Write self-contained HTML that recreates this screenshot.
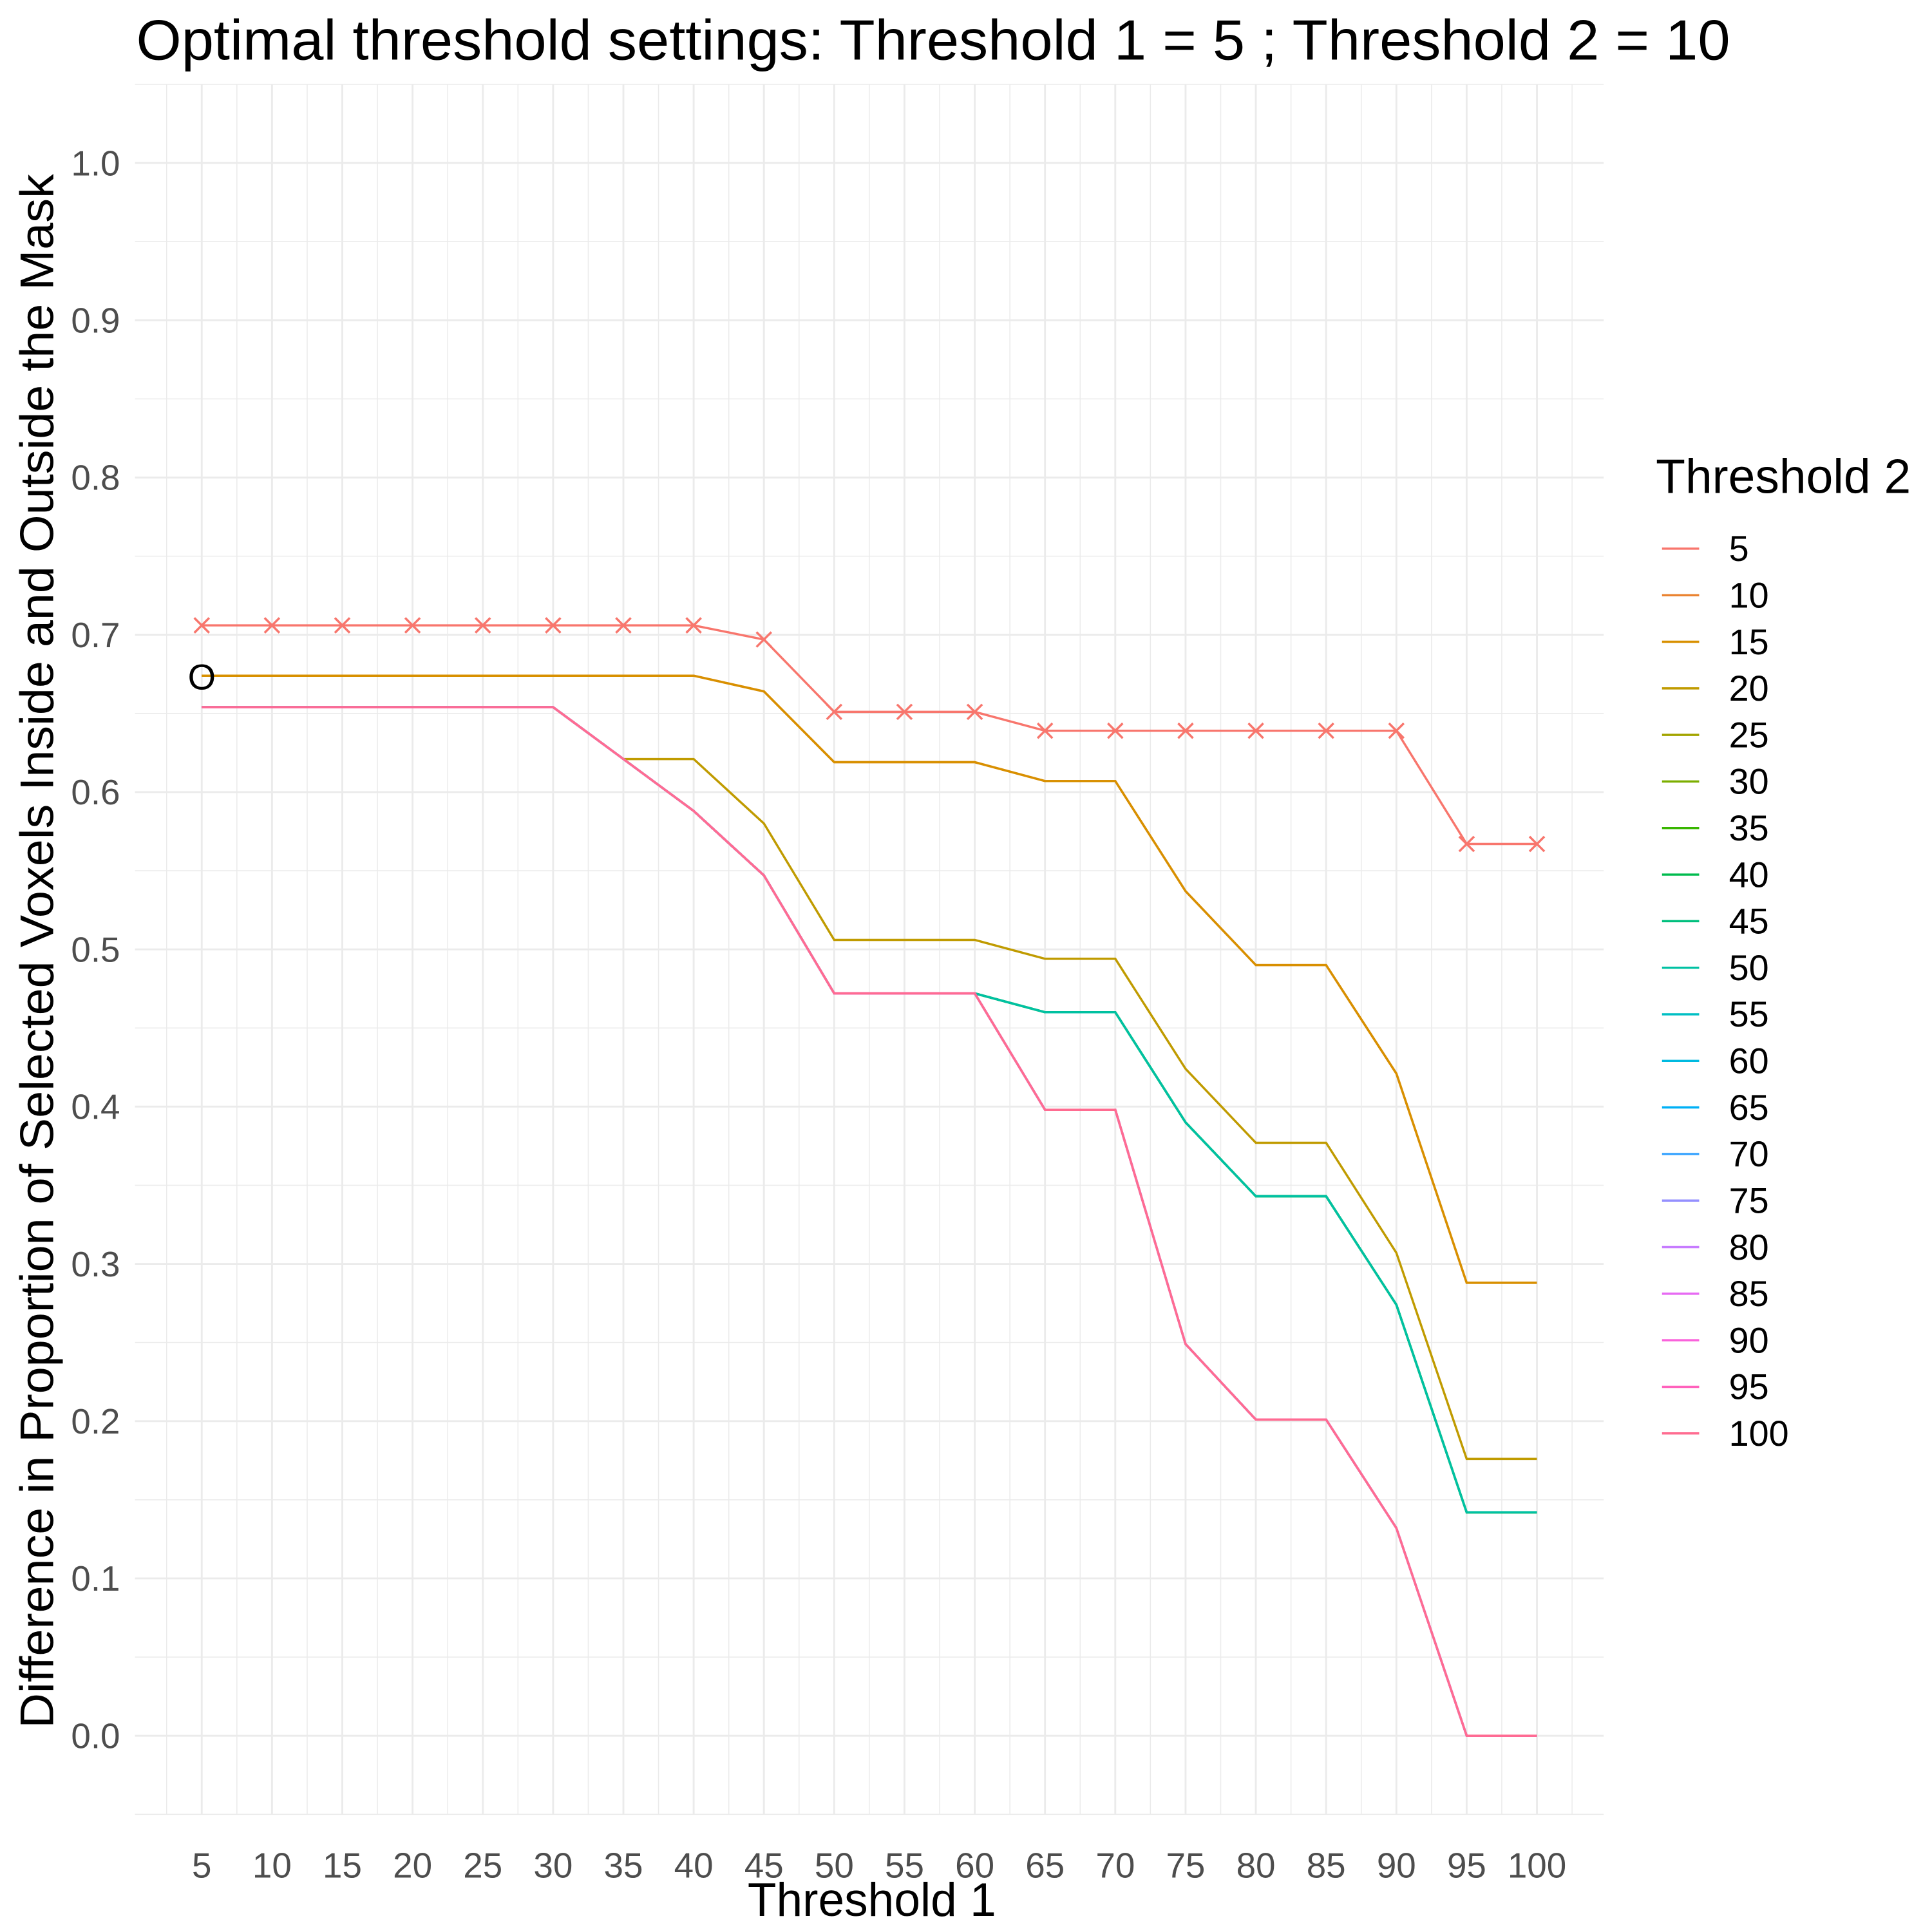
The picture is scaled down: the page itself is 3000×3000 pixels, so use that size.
<!DOCTYPE html>
<html><head><meta charset="utf-8"><style>
html,body{margin:0;padding:0;background:#fff}
svg{display:block}
text{font-family:"Liberation Sans",Arial,sans-serif}
</style></head><body>
<svg id="chart" width="3000" height="3000" viewBox="0 0 1560 1560" xmlns="http://www.w3.org/2000/svg">
<text x="110" y="48" font-size="46" textLength="1287" lengthAdjust="spacingAndGlyphs" fill="#000">Optimal threshold settings: Threshold 1 = 5 ; Threshold 2 = 10</text>
<g id="grid"></g>
<g id="series"></g>
<g id="axes"></g>
<text x="704" y="1547" font-size="38" text-anchor="middle" fill="#000">Threshold 1</text>
<text transform="translate(43,768) rotate(-90)" font-size="38" text-anchor="middle" textLength="1255" lengthAdjust="spacingAndGlyphs" fill="#000">Difference in Proportion of Selected Voxels Inside and Outside the Mask</text>
<text x="1337" y="398" font-size="39" fill="#000">Threshold 2</text>
<g id="legend"></g>
</svg>
<script>
const categories=[5,10,15,20,25,30,35,40,45,50,55,60,65,70,75,80,85,90,95,100];
const seriesLevels=[5,10,15,20,25,30,35,40,45,50,55,60,65,70,75,80,85,90,95,100];
const colors=["#F8766D","#EA8331","#D89000","#C09B00","#A3A500","#7CAE00","#39B600","#00BB4E","#00BF7D","#00C1A3","#00BFC4","#00BAE0","#00B0F6","#35A2FF","#9590FF","#C77CFF","#E76BF3","#FA62DB","#FF62BC","#FF6C91"];
const valsT5=[0.706,0.706,0.706,0.706,0.706,0.706,0.706,0.706,0.697,0.651,0.651,0.651,0.639,0.639,0.639,0.639,0.639,0.639,0.567,0.567];
const valsT10=[0.674,0.674,0.674,0.674,0.674,0.674,0.674,0.674,0.664,0.619,0.619,0.619,0.607,0.607,0.537,0.490,0.490,0.421,0.288,0.288];
const valsT20=[0.654,0.654,0.654,0.654,0.654,0.654,0.621,0.621,0.580,0.506,0.506,0.506,0.494,0.494,0.424,0.377,0.377,0.307,0.176,0.176];
const valsT25to50=[0.654,0.654,0.654,0.654,0.654,0.654,0.621,0.588,0.547,0.472,0.472,0.472,0.460,0.460,0.390,0.343,0.343,0.274,0.142,0.142];
const valsT55to100=[0.654,0.654,0.654,0.654,0.654,0.654,0.621,0.588,0.547,0.472,0.472,0.472,0.398,0.398,0.249,0.201,0.201,0.132,0.000,0.000];
const yTicks=[0,0.1,0.2,0.3,0.4,0.5,0.6,0.7,0.8,0.9,1.0];
const yTickLabels=["0.0","0.1","0.2","0.3","0.4","0.5","0.6","0.7","0.8","0.9","1.0"];
const optimum={t1:5,value:0.674,label:"O"};
function seriesValues(lv){if(lv===5)return valsT5;if(lv<=15)return valsT10;if(lv===20)return valsT20;if(lv<=50)return valsT25to50;return valsT55to100;}
const NS="http://www.w3.org/2000/svg";
const X5=162.9,X100=1241,Y0=1401.5,Y1=131.6;
const xs=v=>X5+(v-5)*(X100-X5)/95;
const ys=v=>Y0-v*(Y0-Y1);
const L=xs(0.25),R=xs(104.75),T=ys(1.05),B=ys(-0.05);
function mk(tag,attrs,parent){const e=document.createElementNS(NS,tag);for(const k in attrs)e.setAttribute(k,attrs[k]);parent.appendChild(e);return e;}
const grid=document.getElementById('grid'),axes=document.getElementById('axes'),sg=document.getElementById('series'),lg=document.getElementById('legend');
for(let i=0;i<=11;i++){const v=-0.05+0.1*i;const l=mk('line',{x1:L,x2:R,y1:ys(v),y2:ys(v),stroke:'#EBEBEB','stroke-width':0.8},grid);}
for(let i=0;i<=categories.length;i++){const v=2.5+5*i;const l=mk('line',{x1:xs(v),x2:xs(v),y1:T,y2:B,stroke:'#EBEBEB','stroke-width':0.8},grid);}
yTicks.forEach((v,i)=>{const l=mk('line',{x1:L,x2:R,y1:ys(v),y2:ys(v),stroke:'#EBEBEB','stroke-width':1.5},grid);
const t=mk('text',{x:97,y:ys(v)+10,'font-size':28.5,'text-anchor':'end',fill:'#4D4D4D'},axes);t.textContent=yTickLabels[i];});
categories.forEach(c=>{const l=mk('line',{x1:xs(c),x2:xs(c),y1:T,y2:B,stroke:'#EBEBEB','stroke-width':1.5},grid);
const t=mk('text',{x:xs(c),y:1516,'font-size':28.5,'text-anchor':'middle',fill:'#4D4D4D'},axes);t.textContent=String(c);});
seriesLevels.forEach((lv,i)=>{const vals=seriesValues(lv);const pts=categories.map((c,j)=>xs(c).toFixed(2)+','+ys(vals[j]).toFixed(2)).join(' ');
const p=mk('polyline',{points:pts,fill:'none',stroke:colors[i],'stroke-width':1.8},sg);
const ly=443+37.6*i;const k=mk('line',{x1:1342,x2:1372,y1:ly,y2:ly,stroke:colors[i],'stroke-width':1.8},lg);
const t=mk('text',{x:1396,y:ly+10,'font-size':29,fill:'#000'},lg);t.textContent=String(lv);});
categories.forEach((c,j)=>{const x=xs(c),y=ys(valsT5[j]),s=6;const g=mk('path',{d:`M${x-s},${y-s}L${x+s},${y+s}M${x-s},${y+s}L${x+s},${y-s}`,stroke:colors[0],'stroke-width':1.8,fill:'none'},sg);});
const o=mk('text',{x:xs(optimum.t1),y:ys(optimum.value)+11,'font-size':29,'text-anchor':'middle',fill:'#000'},sg);o.textContent=optimum.label;


</script>
</body></html>
